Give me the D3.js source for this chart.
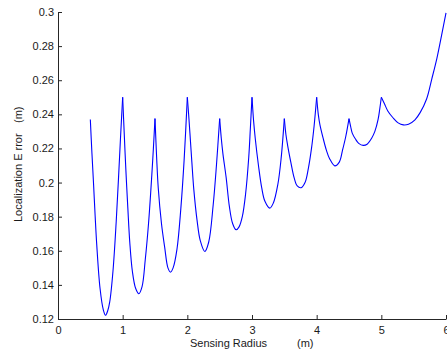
<!DOCTYPE html>
<html>
<head>
<meta charset="utf-8">
<script src="https://cdn.jsdelivr.net/npm/d3@7"></script>
<style>
  body { margin: 0; background: #fff; }
  svg { display: block; }
  .axis text { font-family: "Liberation Sans", Arial, sans-serif; font-size: 11px; fill: #1a1a1a; }
  .axis path, .axis line { stroke: #262626; }
  .label { font-family: "Liberation Sans", Arial, sans-serif; font-size: 11px; fill: #1a1a1a; }
</style>
</head>
<body>
<svg width="447" height="354"></svg>
<script>
// values (radius in m, error in m)
var sensingRadius = [
  0.50, 0.525, 0.55, 0.575, 0.60, 0.65, 0.70, 0.735, 0.77, 0.80, 0.85, 0.90, 0.935, 0.965, 1.00,
  1.025, 1.05, 1.08, 1.11, 1.15, 1.20, 1.25, 1.30, 1.35, 1.40, 1.45, 1.475, 1.50,
  1.525, 1.55, 1.60, 1.65, 1.70, 1.74, 1.78, 1.84, 1.90, 1.95, 2.00,
  2.02, 2.04, 2.07, 2.10, 2.15, 2.20, 2.27, 2.33, 2.40, 2.45, 2.50,
  2.525, 2.55, 2.60, 2.65, 2.70, 2.755, 2.80, 2.85, 2.90, 2.95, 2.975, 3.00,
  3.025, 3.05, 3.10, 3.15, 3.20, 3.275, 3.33, 3.40, 3.45, 3.50,
  3.525, 3.55, 3.60, 3.65, 3.70, 3.76, 3.82, 3.87, 3.92, 3.96, 4.00,
  4.025, 4.05, 4.10, 4.15, 4.20, 4.28, 4.35, 4.40, 4.45, 4.50,
  4.525, 4.55, 4.60, 4.65, 4.72, 4.78, 4.85, 4.90, 4.95, 4.975, 5.00,
  5.05, 5.10, 5.18, 5.26, 5.34, 5.42, 5.52, 5.60, 5.70, 5.78, 5.86, 5.93, 6.00
];
var localizationError = [
  0.237, 0.217, 0.199, 0.180, 0.163, 0.138, 0.1255, 0.1222, 0.125, 0.130, 0.148, 0.177, 0.202, 0.225, 0.250,
  0.228, 0.207, 0.185, 0.165, 0.148, 0.138, 0.1348, 0.139, 0.155, 0.176, 0.204, 0.220, 0.2375,
  0.215, 0.197, 0.176, 0.162, 0.150, 0.1475, 0.150, 0.161, 0.185, 0.213, 0.250,
  0.240, 0.229, 0.212, 0.196, 0.178, 0.166, 0.1596, 0.165, 0.187, 0.210, 0.2375,
  0.226, 0.217, 0.203, 0.186, 0.176, 0.1723, 0.174, 0.180, 0.193, 0.215, 0.232, 0.250,
  0.236, 0.226, 0.210, 0.197, 0.189, 0.185, 0.188, 0.199, 0.214, 0.2375,
  0.228, 0.222, 0.212, 0.203, 0.198, 0.197, 0.200, 0.208, 0.220, 0.233, 0.250,
  0.240, 0.234, 0.226, 0.219, 0.214, 0.2098, 0.212, 0.219, 0.227, 0.2375,
  0.233, 0.229, 0.2255, 0.223, 0.2218, 0.2225, 0.226, 0.230, 0.237, 0.243, 0.250,
  0.246, 0.242, 0.238, 0.235, 0.2338, 0.2342, 0.2368, 0.241, 0.249, 0.2607, 0.273, 0.286, 0.2995
];
var xTicks = [0, 1, 2, 3, 4, 5, 6];
var yTicks = [0.12, 0.14, 0.16, 0.18, 0.2, 0.22, 0.24, 0.26, 0.28, 0.3];

var svg = d3.select("svg"),
    margin = {top: 12, right: 1, bottom: 35, left: 58},
    width = +svg.attr("width") - margin.left - margin.right,
    height = +svg.attr("height") - margin.top - margin.bottom,
    g = svg.append("g").attr("transform", "translate(" + margin.left + "," + margin.top + ")");

var x = d3.scaleLinear().domain([0, 6]).range([0, width]);
var y = d3.scaleLinear().domain([0.12, 0.3]).range([height, 0]);

var pts = sensingRadius.map(function(r, i) { return [r, localizationError[i]]; });

// cut the curve at each peak so the cusps stay sharp, smooth the rest
var pieces = [], cur = [pts[0]];
for (var i = 1; i < pts.length; i++) {
  cur.push(pts[i]);
  var isPeak = i < pts.length - 1 && pts[i][1] > pts[i - 1][1] && pts[i][1] > pts[i + 1][1];
  if (isPeak) { pieces.push(cur); cur = [pts[i]]; }
}
pieces.push(cur);

var line = d3.line()
    .curve(d3.curveCatmullRom.alpha(0.5))
    .x(function(d) { return x(d[0]); })
    .y(function(d) { return y(d[1]); });

g.selectAll(".seg")
    .data(pieces)
    .enter().append("path")
    .attr("class", "seg")
    .attr("fill", "none")
    .attr("stroke", "#0000ff")
    .attr("stroke-width", 1.1)
    .attr("stroke-linejoin", "round")
    .attr("d", line);

// axes, ticks pointing inward like matlab
g.append("g")
    .attr("class", "axis")
    .attr("transform", "translate(0," + height + ")")
    .call(d3.axisBottom(x).tickValues(xTicks).tickSizeInner(-4).tickSizeOuter(0).tickPadding(7)
      .tickFormat(d3.format("d")));

g.append("g")
    .attr("class", "axis")
    .call(d3.axisLeft(y).tickValues(yTicks).tickSizeInner(-4).tickSizeOuter(0).tickPadding(4)
      .tickFormat(function(d) { return String(+d.toFixed(2)); }));

svg.append("text")
    .attr("class", "label")
    .attr("x", 190).attr("y", 347)
    .text("Sensing Radius");
svg.append("text")
    .attr("class", "label")
    .attr("x", 297).attr("y", 347)
    .text("(m)");

svg.append("text")
    .attr("class", "label")
    .attr("transform", "translate(22,222) rotate(-90)")
    .text("Localization E rror");
svg.append("text")
    .attr("class", "label")
    .attr("transform", "translate(22,123) rotate(-90)")
    .text("(m)");
</script>
</body>
</html>
